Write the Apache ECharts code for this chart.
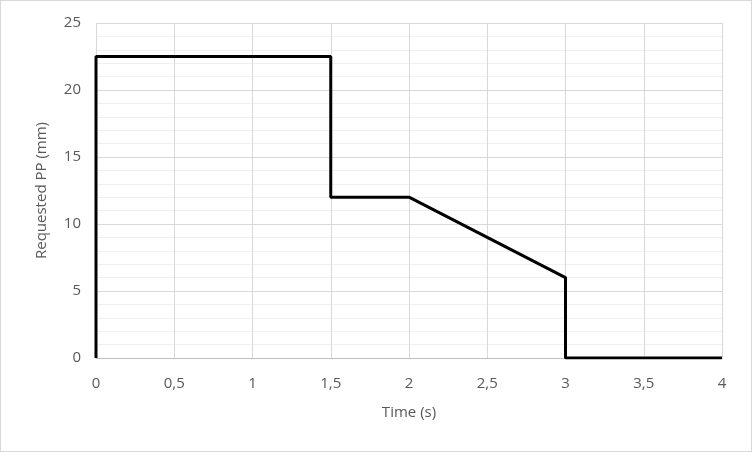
<!DOCTYPE html>
<html>
<head>
<meta charset="utf-8">
<script src="https://cdn.jsdelivr.net/npm/echarts@6/dist/echarts.min.js"></script>
<style>
  html, body { margin:0; padding:0; background:#fff; }
  #chart { width:750px; height:450px; border:1px solid #d9d9d9; }
</style>
</head>
<body>
<div id="chart"></div>
<script>
// requested PP profile over time
const timeValues = [0, 0, 1.5, 1.5, 2, 3, 3, 4];
const ppValues   = [0, 22.5, 22.5, 12, 12, 6, 0, 0];
const xTickStep = 0.5;
const yTickStep = 5;

const font = 'Open Sans, Liberation Sans, sans-serif';
const chart = echarts.init(document.getElementById('chart'));
chart.setOption({
  animation: false,
  grid: {left:95, right:29, top:22, bottom:93},
  xAxis: {
    type:'value', min:0, max:4, interval:xTickStep,
    name:'Time (s)', nameLocation:'middle', nameGap:47,
    nameTextStyle:{color:'#595959', fontSize:15, fontFamily:font},
    axisLine:{show:true, lineStyle:{color:'#bfbfbf', width:1}},
    axisTick:{show:false},
    axisLabel:{color:'#595959', fontSize:15, fontFamily:font, margin:18,
      formatter: v => String(v).replace('.', ',')},
    splitLine:{show:true, lineStyle:{color:'#d9d9d9', width:1}}
  },
  yAxis: {
    type:'value', min:0, max:25, interval:yTickStep,
    name:'Requested PP (mm)', nameLocation:'middle', nameGap:47,
    nameTextStyle:{color:'#595959', fontSize:15, fontFamily:font},
    axisLine:{show:false},
    axisTick:{show:false},
    axisLabel:{color:'#595959', fontSize:15, fontFamily:font, margin:15},
    splitLine:{show:true, lineStyle:{color:'#d9d9d9', width:1}},
    minorTick:{show:false, splitNumber:5},
    minorSplitLine:{show:true, lineStyle:{color:'#f0f0f0', width:1}}
  },
  series: [{
    type:'line',
    data: timeValues.map((t, i) => [t, ppValues[i]]),
    showSymbol:false,
    lineStyle:{color:'#000', width:3},
    itemStyle:{color:'#000'}
  }]
});
</script>
</body>
</html>
